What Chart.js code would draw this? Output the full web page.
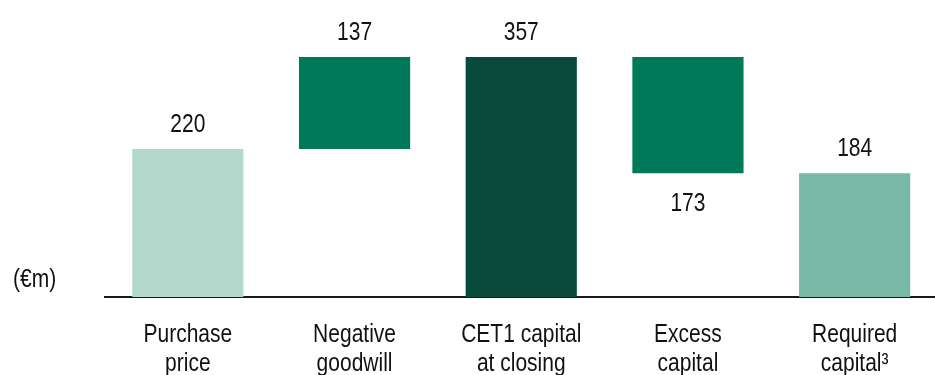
<!DOCTYPE html>
<html lang="en">
<head>
    <meta charset="UTF-8">
    <title>CET1 capital bridge</title>
    <script src="https://cdn.jsdelivr.net/npm/chart.js"></script>
    <style>
        html, body { margin: 0; padding: 0; background: #fff; overflow: hidden; }
        #wrap { position: relative; width: 940px; height: 375px; }
    </style>
</head>
<body>
    <div id="wrap"><canvas id="bridgeChart"></canvas></div>

    <script>
        // data (€m)
        const categories = [
            ['Purchase', 'price'],
            ['Negative', 'goodwill'],
            ['CET1 capital', 'at closing'],
            ['Excess', 'capital'],
            ['Required', 'capital\u00B3']
        ];
        const values = [220, 137, 357, 173, 184];
        const steps = ['total', 'up', 'total', 'down', 'total'];
        const barColors = ['#b3d9cd', '#00795a', '#0a4a3a', '#00795a', '#7ab8a6'];
        const unitLabel = '(\u20ACm)';

        // the original uses a narrow face; stretch Liberation Sans vertically instead
        const FONT = "21px 'Liberation Sans', Arial, sans-serif";
        const STRETCH = 1.26;

        // build floating ranges for the waterfall
        let running = 0;
        const ranges = values.map((v, i) => {
            if (steps[i] === 'total') { running = v; return [0, v]; }
            if (steps[i] === 'up') { const r = [running, running + v]; running += v; return r; }
            const r = [running - v, running]; running -= v; return r;
        });

        function tallText(ctx, text, x, baseline, align) {
            ctx.save();
            ctx.translate(x, baseline);
            ctx.scale(1, STRETCH);
            ctx.textAlign = align || 'center';
            ctx.textBaseline = 'alphabetic';
            ctx.fillText(text, 0, 0);
            ctx.restore();
        }

        // value labels, category labels and unit label
        const labelPlugin = {
            id: 'labels',
            afterDatasetsDraw(chart) {
                const ctx = chart.ctx;
                const meta = chart.getDatasetMeta(0);
                const xScale = chart.scales.x;
                const bottom0 = chart.chartArea.bottom;
                ctx.save();
                ctx.fillStyle = '#111';
                ctx.font = FONT;
                meta.data.forEach((bar, i) => {
                    const top = Math.min(bar.y, bar.base);
                    const bottom = Math.max(bar.y, bar.base);
                    if (steps[i] === 'down') {
                        tallText(ctx, String(values[i]), bar.x, bottom + 38);
                    } else {
                        tallText(ctx, String(values[i]), bar.x, top - 17);
                    }
                });
                categories.forEach((lines, i) => {
                    const x = xScale.getPixelForValue(i);
                    lines.forEach((line, j) => {
                        tallText(ctx, line, x, bottom0 + 44.5 + j * 29.5);
                    });
                });
                tallText(ctx, unitLabel, 13, bottom0 - 10, 'left');
                ctx.restore();
            }
        };

        const ctx = document.getElementById('bridgeChart').getContext('2d');
        const bridgeChart = new Chart(ctx, {
            type: 'bar',
            data: {
                labels: categories,
                datasets: [{
                    data: ranges,
                    backgroundColor: barColors,
                    borderWidth: 0,
                    barPercentage: 0.667,
                    categoryPercentage: 1
                }]
            },
            options: {
                responsive: true,
                maintainAspectRatio: false,
                animation: false,
                layout: { padding: { left: 104.5, right: 2, top: 57, bottom: 0 } },
                plugins: {
                    legend: { display: false },
                    tooltip: { enabled: false }
                },
                scales: {
                    x: {
                        grid: { display: false },
                        border: { display: true, color: '#1a1a1a', width: 2 },
                        ticks: { display: false },
                        afterFit(scale) { scale.height = 78; }
                    },
                    y: {
                        display: false,
                        min: 0,
                        max: 357
                    }
                }
            },
            plugins: [labelPlugin]
        });
    </script>
</body>
</html>
